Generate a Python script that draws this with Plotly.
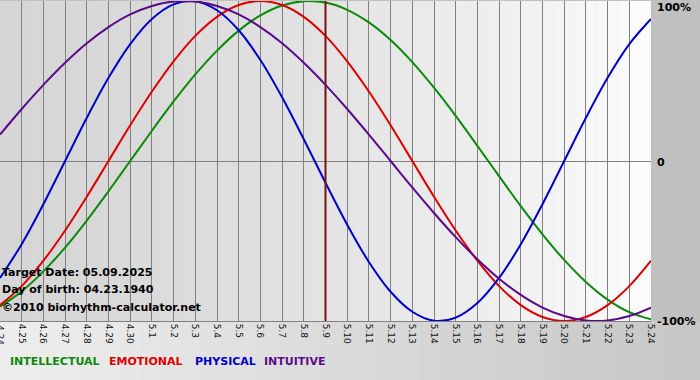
import plotly.graph_objects as go

dates = ["4.24", "4.25", "4.26", "4.27", "4.28", "4.29", "4.30",
         "5.1", "5.2", "5.3", "5.4", "5.5", "5.6", "5.7", "5.8", "5.9",
         "5.10", "5.11", "5.12", "5.13", "5.14", "5.15", "5.16", "5.17",
         "5.18", "5.19", "5.20", "5.21", "5.22", "5.23", "5.24"]

physical = [-0.731, -0.520, -0.270, 0.0, 0.270, 0.520, 0.731, 0.888, 0.979, 0.998,
            0.942, 0.817, 0.631, 0.398, 0.136, -0.136, -0.398, -0.631, -0.817, -0.942,
            -0.998, -0.979, -0.888, -0.731, -0.520, -0.270, 0.0, 0.270, 0.520, 0.731, 0.888]

emotional = [-0.901, -0.782, -0.623, -0.434, -0.223, 0.0, 0.223, 0.434, 0.623, 0.782,
             0.901, 0.975, 1.0, 0.975, 0.901, 0.782, 0.623, 0.434, 0.223, 0.0,
             -0.223, -0.434, -0.623, -0.782, -0.901, -0.975, -1.0, -0.975, -0.901, -0.782, -0.623]

intellectual = [-0.910, -0.815, -0.690, -0.541, -0.372, -0.189, 0.0, 0.189, 0.372, 0.541,
                0.690, 0.815, 0.910, 0.972, 0.999, 0.990, 0.945, 0.866, 0.756, 0.618,
                0.458, 0.282, 0.095, -0.095, -0.282, -0.458, -0.618, -0.756, -0.866, -0.945, -0.990]

intuitive = [0.165, 0.325, 0.476, 0.614, 0.736, 0.837, 0.916, 0.969, 0.997, 0.997,
             0.969, 0.916, 0.837, 0.736, 0.614, 0.476, 0.325, 0.165, 0.0, -0.165,
             -0.325, -0.476, -0.614, -0.736, -0.837, -0.916, -0.969, -0.997, -0.997, -0.969, -0.916]

target_label = "5.9"
legend_names = ["INTELLECTUAL", "EMOTIONAL", "PHYSICAL", "INTUITIVE"]
legend_colors = ["#0a8a0a", "#e00000", "#0000cc", "#5a0a8a"]

xs = list(range(len(dates)))
FONT = "DejaVu Sans"

fig = go.Figure()

series = [intellectual, emotional, physical, intuitive]
for name, vals, col in zip(legend_names, series, legend_colors):
    fig.add_trace(go.Scatter(x=xs, y=vals, mode="lines", name=name,
                             line=dict(color=col, width=2, shape="spline", smoothing=1.0),
                             showlegend=False, hoverinfo="skip"))

shapes = []
# plot area gradient (left grey -> right near white)
nb = 60
n = len(dates) - 1
for i in range(nb):
    t = (i + 0.5) / nb
    v = int(round(214 + 38 * t ** 1.5))
    shapes.append(dict(type="rect", xref="x", yref="paper",
                       x0=i * n / nb, x1=(i + 1) * n / nb, y0=0, y1=1,
                       fillcolor=f"rgb({v},{v},{v})", line=dict(width=0), layer="below"))
# bottom strip gradient
W, H, B = 700, 380, 59
PH = H - B - 1
PW = 651
nbb = 35
for i in range(nbb):
    t = (i + 0.5) / nbb
    v = int(round(238 - 40 * t))
    shapes.append(dict(type="rect", xref="paper", yref="paper",
                       x0=(i * W / nbb) / PW, x1=((i + 1) * W / nbb) / PW,
                       y0=-B / PH, y1=-0.0,
                       fillcolor=f"rgb({v},{v},{v})", line=dict(width=0), layer="below"))
# target date line
ti = dates.index(target_label)
shapes.append(dict(type="line", xref="x", yref="paper", x0=xs[ti], x1=xs[ti], y0=0, y1=1,
                   line=dict(color="#7a1010", width=2), layer="above"))

annotations = []
info = ["Target Date: 05.09.2025", "Day of birth: 04.23.1940", "©2010 biorhythm-calculator.net"]
info_y = [272, 289, 307]
for txt, py in zip(info, info_y):
    annotations.append(dict(text=f"<b>{txt}</b>", xref="paper", yref="paper",
                            x=0, y=1 - (py - 1) / PH, xanchor="left", yanchor="middle",
                            showarrow=False, font=dict(family=FONT, size=11, color="#000000")))
# right-side percentage labels
for txt, py in zip(["100%", "0", "-100%"], [7, 162, 321]):
    annotations.append(dict(text=f"<b>{txt}</b>", xref="paper", yref="paper",
                            x=1, y=1 - (py - 1) / PH, xanchor="left", yanchor="middle",
                            xshift=4, showarrow=False,
                            font=dict(family=FONT, size=11, color="#000000")))
# first (clipped) date label at left edge
annotations.append(dict(text=dates[0], xref="x", yref="paper", x=xs[0], y=0,
                        xanchor="center", yanchor="top", yshift=-2, textangle=90,
                        showarrow=False, font=dict(family=FONT, size=9, color="#111111")))
# legend texts
leg_x = [8, 107, 193, 262]
for txt, col, px in zip(legend_names, legend_colors, leg_x):
    annotations.append(dict(text=f"<b>{txt}</b>", xref="paper", yref="paper",
                            x=px / PW, y=1 - (361 - 1) / PH, xanchor="left", yanchor="middle",
                            showarrow=False, font=dict(family=FONT, size=11, color=col)))

fig.update_layout(
    width=W, height=H,
    margin=dict(l=0, r=W - PW, t=1, b=B, autoexpand=False),
    paper_bgcolor="#c0c0c0",
    plot_bgcolor="#e0e0e0",
    shapes=shapes,
    annotations=annotations,
    showlegend=False,
    xaxis=dict(range=[0, n], tickvals=xs, ticktext=dates, tickangle=90,
               showgrid=True, gridcolor="#808080", gridwidth=1,
               showline=True, linecolor="#808080", linewidth=1,
               zeroline=False, ticks="", ticklen=0, automargin=False,
               tickfont=dict(family=FONT, size=9, color="#111111")),
    yaxis=dict(range=[-1.0, 1.0], showgrid=False, showticklabels=False,
               zeroline=True, zerolinecolor="#808080", zerolinewidth=1,
               showline=False, automargin=False),
)

fig.write_html("out.html", config={"displayModeBar": False},
               post_script="document.body.style.margin='0';document.body.style.padding='0';")
